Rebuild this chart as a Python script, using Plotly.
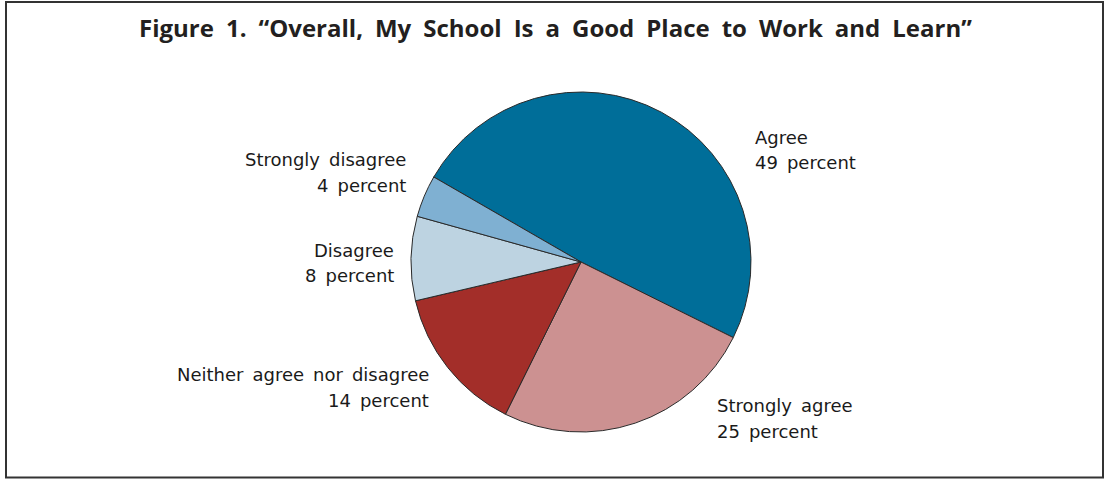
import plotly.graph_objects as go

labels = ["Agree", "Strongly agree", "Neither agree nor disagree", "Disagree", "Strongly disagree"]
values = [49, 25, 14, 8, 4]
colors = ["#006e99", "#cc9191", "#a32e29", "#bdd3e1", "#7fb0d2"]
title = "Figure 1. \u201cOverall, My School Is a Good Place to Work and Learn\u201d"

W, H = 1108, 480
cx, cy, r = 581, 262, 170
SP = "\u2002"  # wide word spacing as in the original typesetting

fig = go.Figure(go.Pie(
    labels=labels, values=values, sort=False, direction="clockwise",
    rotation=-60, textinfo="none", hoverinfo="label+percent",
    marker=dict(colors=colors, line=dict(color="#2a2a2a", width=1)),
    domain=dict(x=[(cx - r) / W, (cx + r) / W], y=[1 - (cy + r) / H, 1 - (cy - r) / H]),
    showlegend=False,
))

# label anchors: (x edge, first line centre y, second line centre y, alignment)
label_pos = {
    "Agree": (753, 137, 162, "left"),
    "Strongly agree": (715, 405, 431, "left"),
    "Neither agree nor disagree": (431, 374, 400, "right"),
    "Disagree": (396, 250, 275, "right"),
    "Strongly disagree": (408, 160, 186, "right"),
}
lab_font = dict(family="DejaVu Sans", size=18, color="#1a1a1a")
for lab, val in zip(labels, values):
    x, y1, y2, al = label_pos[lab]
    for txt, y in ((lab, y1), (f"{val} percent", y2)):
        fig.add_annotation(
            x=x / W, y=1 - y / H, xref="paper", yref="paper",
            xanchor=al, yanchor="middle", align=al, showarrow=False,
            text=txt.replace(" ", SP), font=lab_font,
        )

fig.add_annotation(
    x=555 / W, y=1 - 27.5 / H, xref="paper", yref="paper",
    xanchor="center", yanchor="middle", showarrow=False,
    text=f"<b>{title.replace(' ', SP)}</b>",
    font=dict(family="Open Sans", size=24, color="#231f20"),
)

fig.add_shape(type="rect", xref="paper", yref="paper",
              x0=6 / W, x1=1103 / W, y0=1 - 477.5 / H, y1=1 - 2 / H,
              line=dict(color="#333333", width=2))

fig.update_layout(
    width=W, height=H, margin=dict(l=0, r=0, t=0, b=0),
    paper_bgcolor="white", plot_bgcolor="white",
)
fig.write_html("out.html", config={"displayModeBar": False},
               post_script="document.body.style.margin='0';document.body.style.overflow='hidden';")
